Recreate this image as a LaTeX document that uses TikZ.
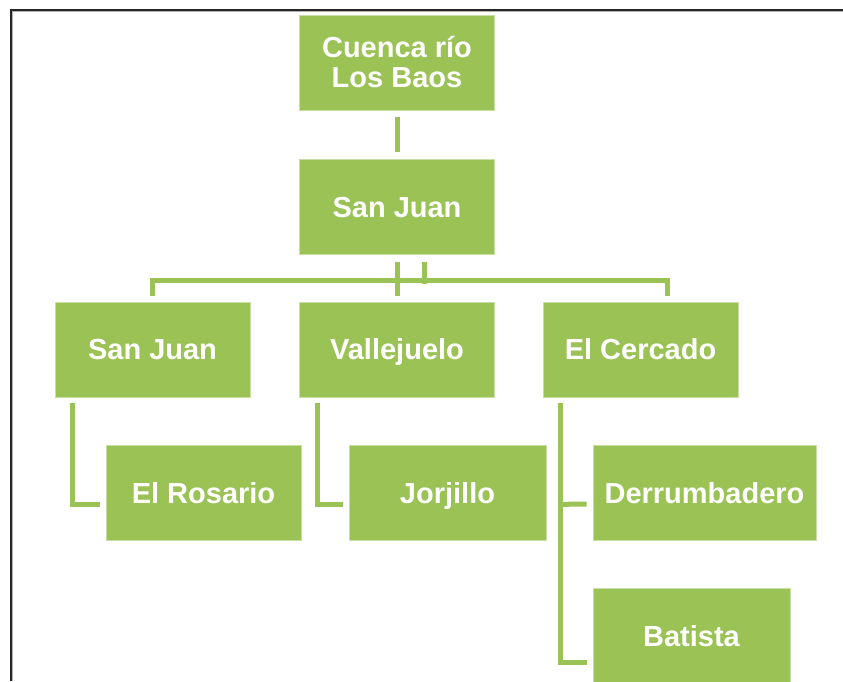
\documentclass[tikz,border=0pt]{standalone}
\usepackage{fontspec}
\setmainfont{Liberation Sans}
\usetikzlibrary{calc}
\definecolor{leaf}{RGB}{154,194,85}
\definecolor{leafedge}{RGB}{200,222,165}
\tikzset{
  orgbox/.style={rectangle, fill=leaf, draw=leafedge, line width=0.7pt,
    minimum width=195pt, minimum height=95pt, inner sep=0pt, text=white,
    align=center, font=\bfseries\fontsize{29}{30}\selectfont},
  oneline/.style={orgbox, text height=20.8pt, text depth=0pt},
  conn/.style={draw=leaf, line width=5pt, line cap=butt, line join=miter}
}
\begin{document}
\begin{tikzpicture}[x=1pt,y=-1pt]
\useasboundingbox (0,0) rectangle (843,681);
\clip (0,0) rectangle (843,681);
\fill[white] (0,0) rectangle (843,681);
% frame
\draw[line width=1.2pt, black!30] (12.2,681) -- (12.2,11.2) -- (843,11.2);
\draw[line width=2pt, black!85] (10.5,681) -- (10.5,9.5) -- (843,9.5);
% boxes
\node[orgbox] (top) at (397,62.5) {Cuenca río\\Los Baos};
\node[oneline] (sj1) at (397,207) {San Juan};
\node[oneline] (sj2) at (152.5,349.5) {San Juan};
\node[oneline] (val) at (397,349.5) {Vallejuelo};
\node[oneline] (cer) at (640.5,349.5) {El Cercado};
\node[oneline, minimum width=195pt] (ros) at (203.5,493) {El Rosario};
\node[oneline, minimum width=197pt] (jor) at (447.5,493) {Jorjillo};
\node[oneline, minimum width=223pt] (der) at (704.5,493) {Derrumbadero};
\node[oneline, minimum width=197pt] (bat) at (691.5,636) {Batista};
% connectors
\draw[conn] ($(top.south)+(0,7)$) -- ($(sj1.north)+(0,-7)$);
\draw[conn] ($(sj1.south)+(0,7)$) -- ($(val.north)+(0,-6)$);
\draw[conn] ($(sj1.south)+(27,7)$) -- ++(0,22);
\draw[conn] ($(sj2.north)+(0,-6)$) -- ++(0,-15) -| ($(cer.north)+(27,-6)$);
\draw[conn] ($(sj2.south)+(-80,6)$) |- ($(ros.west)+(-6,11)$);
\draw[conn] ($(val.south)+(-80,6)$) |- ($(jor.west)+(-6,11)$);
\draw[conn] ($(cer.south)+(-80,6)$) |- ($(bat.west)+(-6,26)$);
\draw[conn] ($(cer.south)+(-80,107)$) -- ($(der.west)+(-6,11)$);
\end{tikzpicture}
\end{document}
